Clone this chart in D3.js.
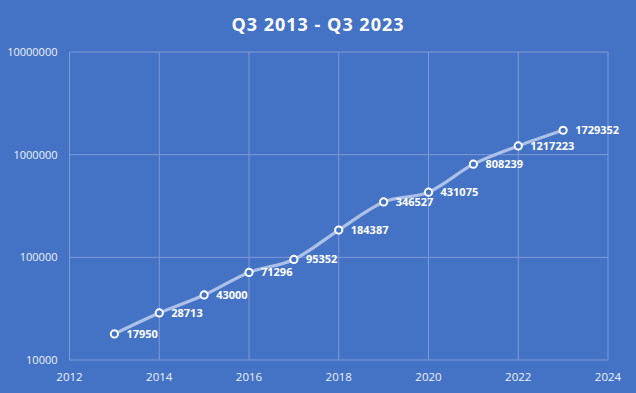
<!DOCTYPE html>
<html>
<head>
<meta charset="utf-8">
<script src="https://cdn.jsdelivr.net/npm/d3@7"></script>
<style>
  body { margin: 0; background: #4472c4; }
  svg { display: block; }
</style>
</head>
<body>
<div id="viz"></div>
<script>
// data
const years = [2013, 2014, 2015, 2016, 2017, 2018, 2019, 2020, 2021, 2022, 2023]
const counts = [17950, 28713, 43000, 71296, 95352, 184387, 346527, 431075, 808239, 1217223, 1729352]
const xTicks = [2012, 2014, 2016, 2018, 2020, 2022, 2024]
const yTicks = [10000, 100000, 1000000, 10000000]
const title = "Q3 2013 - Q3 2023"

const width = 636, height = 393
const margin = { top: 52, right: 28, bottom: 33, left: 69.5 }

const svg = d3.select("#viz").append("svg")
    .attr("width", width)
    .attr("height", height)
    .style("font-family", "'Open Sans', 'Noto Sans', sans-serif")

svg.append("rect")
    .attr("width", width)
    .attr("height", height)
    .attr("fill", "#4472c4")

const x = d3.scaleLinear()
  .domain([2012, 2024])
  .range([margin.left, width - margin.right])
const y = d3.scaleLog()
  .domain([10000, 10000000])
  .range([height - margin.bottom, margin.top])

// gridlines
svg.append("g")
  .selectAll("line")
  .data(xTicks)
  .join("line")
    .attr("x1", d => x(d)).attr("x2", d => x(d))
    .attr("y1", y(10000000)).attr("y2", y(10000))
    .attr("stroke", "#7e9ad8")
    .attr("stroke-width", 1)
svg.append("g")
  .selectAll("line")
  .data(yTicks)
  .join("line")
    .attr("x1", x(2012)).attr("x2", x(2024))
    .attr("y1", d => y(d)).attr("y2", d => y(d))
    .attr("stroke", "#7e9ad8")
    .attr("stroke-width", 1)

// axis labels
svg.append("g")
  .selectAll("text")
  .data(xTicks)
  .join("text")
    .attr("x", d => x(d))
    .attr("y", height - margin.bottom + 21)
    .attr("text-anchor", "middle")
    .attr("fill", "#eef2fa")
    .style("font-size", "11.5px")
    .text(d => d)
svg.append("g")
  .selectAll("text")
  .data(yTicks)
  .join("text")
    .attr("x", margin.left - 12)
    .attr("y", d => y(d) + 4)
    .attr("text-anchor", "end")
    .attr("fill", "#eef2fa")
    .style("font-size", "11px")
    .text(d => d)

// title
svg.append("text")
    .attr("x", width / 2)
    .attr("y", 31)
    .attr("text-anchor", "middle")
    .attr("fill", "#ffffff")
    .style("font-size", "18px")
    .style("font-weight", "bold")
    .style("letter-spacing", "1px")
    .text(title)

const points = years.map((d, i) => ({ year: d, value: counts[i] }))

// line
const line = d3.line()
  .x(d => x(d.year))
  .y(d => y(d.value))
  .curve(d3.curveMonotoneX)

svg.append("path")
    .datum(points)
    .attr("d", line)
    .attr("fill", "none")
    .attr("stroke", "#acc0e8")
    .attr("stroke-width", 3.2)
    .attr("stroke-linecap", "round")

// markers
svg.append("g")
  .selectAll("circle")
  .data(points)
  .join("circle")
    .attr("cx", d => x(d.year))
    .attr("cy", d => y(d.value))
    .attr("r", 3.6)
    .attr("fill", "#4472c4")
    .attr("stroke", "#ffffff")
    .attr("stroke-width", 2)

// data labels
svg.append("g")
  .selectAll("text")
  .data(points)
  .join("text")
    .attr("x", d => x(d.year) + 12)
    .attr("y", d => y(d.value) + 4)
    .attr("fill", "#ffffff")
    .style("font-size", "11px")
    .style("font-weight", "bold")
    .text(d => d.value)
</script>
</body>
</html>
